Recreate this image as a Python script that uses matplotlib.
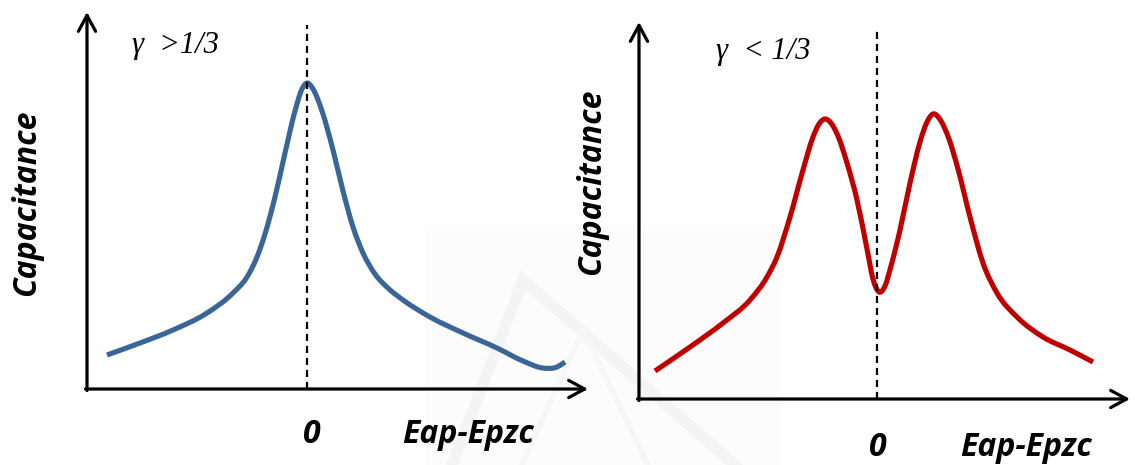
import matplotlib
matplotlib.use("Agg")
import matplotlib.pyplot as plt
from matplotlib.path import Path
from matplotlib.patches import PathPatch, Rectangle

W, H = 1135, 465
DPI = 100

# ---------------- data ----------------
# Left panel: gamma > 1/3, single peak at E = 0
e_left = [-2.00, -1.67, -1.34, -1.00, -0.74, -0.60, -0.50, -0.42, -0.32, -0.22,
          -0.12, -0.05, 0.00, 0.06, 0.15, 0.26, 0.36, 0.46, 0.56, 0.68,
          0.82, 0.96, 1.23, 1.56, 1.90, 2.16, 2.36, 2.50, 2.58]
c_left = [0.34, 0.46, 0.59, 0.76, 0.96, 1.12, 1.32, 1.55, 1.92, 2.36,
          2.78, 3.00, 3.06, 3.00, 2.78, 2.39, 1.98, 1.62, 1.36, 1.15,
          1.00, 0.89, 0.72, 0.56, 0.41, 0.28, 0.21, 0.22, 0.27]

# Right panel: gamma < 1/3, two peaks with a minimum at E = 0
e_right = [-2.22, -1.87, -1.54, -1.27, -1.10, -1.00, -0.87, -0.74, -0.64, -0.58,
           -0.52, -0.46, -0.39, -0.30, -0.20, -0.10, -0.04, 0.02, 0.08, 0.14,
           0.23, 0.33, 0.43, 0.50, 0.56, 0.64, 0.72, 0.81, 0.93, 1.06,
           1.20, 1.40, 1.66, 1.93, 2.16]
c_right = [0.28, 0.52, 0.76, 0.99, 1.22, 1.42, 1.82, 2.29, 2.62, 2.75,
           2.80, 2.76, 2.63, 2.36, 1.99, 1.50, 1.20, 1.07, 1.13, 1.33,
           1.69, 2.16, 2.57, 2.77, 2.85, 2.78, 2.60, 2.30, 1.82, 1.36,
           1.06, 0.82, 0.62, 0.49, 0.37]

y_label = "Capacitance"
x_label = "Eap-Epzc"
zero_label = "0"
gamma_left = "γ  >1/3"
gamma_right = "γ  < 1/3"

blue = "#3A6598"
red = "#C00000"

label_font = dict(family=["Open Sans", "DejaVu Sans"], weight="bold", style="italic")
gamma_font = dict(family=["Liberation Serif", "DejaVu Serif"], style="italic")

fig = plt.figure(figsize=(W / DPI, H / DPI), dpi=DPI)
fig.patch.set_facecolor("white")


def fx(px):
    return px / W


def fy(py):
    return 1 - py / H


# faint background watermark (decoration)
bg = fig.add_axes([0, 0, 1, 1], zorder=-10)
bg.set_xlim(0, W)
bg.set_ylim(H, 0)
bg.axis("off")
bg.add_patch(Rectangle((425, 225), 355, 240, facecolor="#fcfcfc", edgecolor="none"))
bg.plot([452, 523, 735], [465, 280, 465], color="#f4f4f4", lw=8,
        solid_joinstyle="miter")
bg.plot([522, 583, 648], [465, 330, 465], color="#f7f7f7", lw=4)


def smooth_path(xs, ys):
    """Cubic Hermite Bezier path through the read points (y as a function of x)."""
    n = len(xs)
    h = [xs[i + 1] - xs[i] for i in range(n - 1)]
    s = [(ys[i + 1] - ys[i]) / h[i] for i in range(n - 1)]
    m = [s[0]]
    for i in range(1, n - 1):
        m.append((h[i - 1] * s[i] + h[i] * s[i - 1]) / (h[i - 1] + h[i]))
    m.append(s[-1])
    verts = [(xs[0], ys[0])]
    codes = [Path.MOVETO]
    for i in range(n - 1):
        d = h[i] / 3
        verts += [(xs[i] + d, ys[i] + m[i] * d),
                  (xs[i + 1] - d, ys[i + 1] - m[i + 1] * d),
                  (xs[i + 1], ys[i + 1])]
        codes += [Path.CURVE4] * 3
    return Path(verts, codes)


def make_panel(x0, x1, y_axis, y_top, x_zero, dash_top, e, c, color):
    ax = fig.add_axes([fx(x0), fy(y_axis), (x1 - x0) / W, (y_axis - y_top) / H])
    ax.set_xlim((x0 - x_zero) / 100, (x1 - x_zero) / 100)
    ax.set_ylim(0, (y_axis - y_top) / 100)
    ax.axis("off")
    ax.patch.set_alpha(0)
    ax.add_patch(PathPatch(smooth_path(e, c), facecolor="none", edgecolor=color,
                           lw=3.7, capstyle="butt", joinstyle="round", zorder=3))
    ax.axvline(0, ymin=0, ymax=(y_axis - dash_top) / (y_axis - y_top),
               color="black", lw=1.6, ls=(0, (3.2, 2.2)), zorder=4)
    arrow = dict(arrowstyle="->,head_length=1.15,head_width=0.62",
                 lw=2.3, color="black", shrinkA=0, shrinkB=0)
    ax.annotate("", xy=(0, 1), xytext=(0, -0.004), xycoords="axes fraction",
                arrowprops=arrow, annotation_clip=False)
    ax.annotate("", xy=(1, 0), xytext=(-0.003, 0), xycoords="axes fraction",
                arrowprops=arrow, annotation_clip=False)
    return ax


make_panel(87, 588, 389, 12, 307, 25, e_left, c_left, blue)
make_panel(639, 1130, 399, 22, 877, 29, e_right, c_right, red)

# texts
fig.text(fx(27), fy(203), y_label, rotation=90, ha="center", va="center",
         fontsize=23, **label_font)
fig.text(fx(592), fy(182), y_label, rotation=90, ha="center", va="center",
         fontsize=23, **label_font)

fig.text(fx(312), fy(434), zero_label, ha="center", va="center", fontsize=23, **label_font)
fig.text(fx(468), fy(434), x_label, ha="center", va="center", fontsize=23, **label_font)
fig.text(fx(878), fy(447), zero_label, ha="center", va="center", fontsize=23, **label_font)
fig.text(fx(1026), fy(447), x_label, ha="center", va="center", fontsize=23, **label_font)

fig.text(fx(132), fy(46), gamma_left, ha="left", va="center", fontsize=22, **gamma_font)
fig.text(fx(716), fy(52), gamma_right, ha="left", va="center", fontsize=22, **gamma_font)

fig.savefig("out.png", dpi=DPI, facecolor="white")
